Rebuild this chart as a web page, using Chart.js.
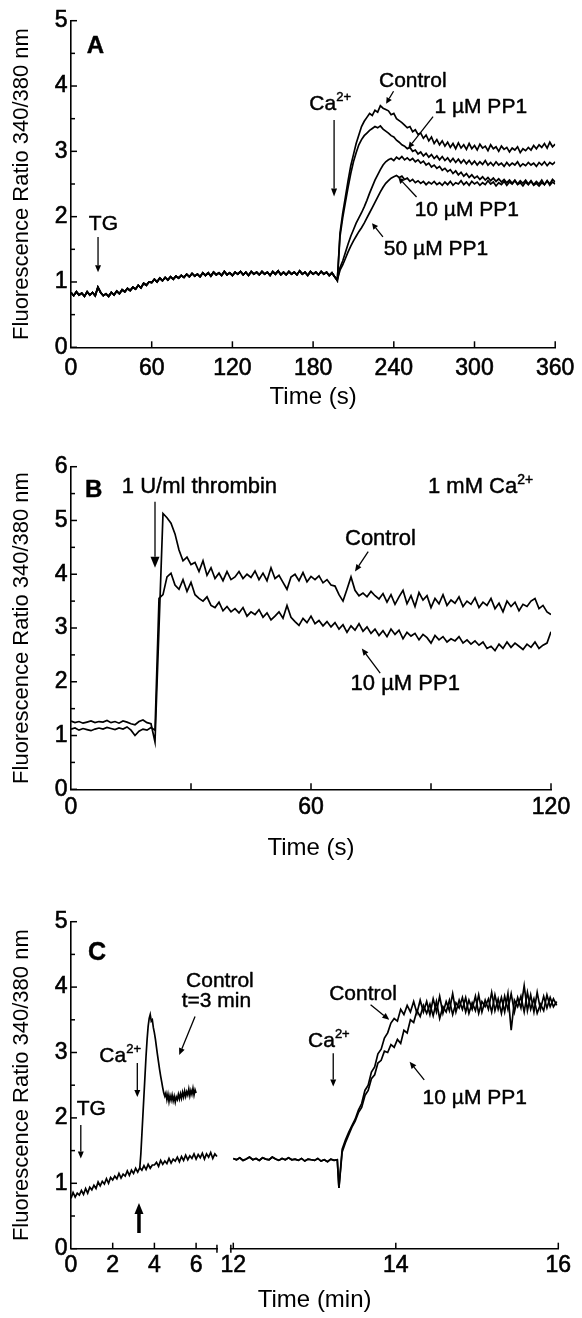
<!DOCTYPE html>
<html><head><meta charset="utf-8">
<script src="https://cdn.jsdelivr.net/npm/chart.js@4.4.0/dist/chart.umd.min.js"></script>
<style>
html,body{margin:0;padding:0;background:#fff;}
#wrap{position:relative;width:582px;height:1318px;background:#fff;}
#wrap canvas{position:absolute;left:0;}
</style></head><body>
<div id="wrap">
<canvas id="cA" width="582" height="430" style="top:0px"></canvas>
<canvas id="cB" width="582" height="440" style="top:430px"></canvas>
<canvas id="cC" width="582" height="448" style="top:870px"></canvas>
</div>
<script>
// ---------------- DATA ----------------
// Panel A: time in s (baseline shared by all 4 traces, 0..196 s every 2 s)
const aBaseStart = 0, aBaseStep = 2;
const aBaseline = [0.84,0.79,0.85,0.80,0.83,0.78,0.85,0.80,0.84,0.79,0.92,0.84,0.79,
 0.82,0.78,0.84,0.80,0.86,0.82,0.88,
 0.85,0.90,0.87,0.92,0.89,0.95,0.91,0.98,0.95,1.00,
 0.99,1.04,1.00,1.06,1.02,1.07,1.03,1.08,1.04,1.09,
 1.06,1.10,1.07,1.12,1.08,1.13,1.09,1.12,1.08,1.14,
 1.10,1.14,1.09,1.15,1.11,1.14,1.10,1.16,1.11,1.14,
 1.10,1.15,1.12,1.16,1.11,1.15,1.10,1.16,1.12,1.15,
 1.11,1.16,1.12,1.15,1.10,1.16,1.12,1.17,1.11,1.15,
 1.11,1.16,1.12,1.15,1.11,1.17,1.12,1.15,1.10,1.16,
 1.12,1.15,1.11,1.16,1.12,1.15,1.10,1.14,1.08];
// after Ca2+ addition: 198..360 s every 2 s
const aPostStart = 198, aPostStep = 2;
const aControl = [1.02,1.75,2.05,2.30,2.55,2.78,2.95,3.12,3.25,3.38,
 3.46,3.52,3.58,3.55,3.63,3.60,3.70,3.66,3.64,3.62,
 3.56,3.58,3.50,3.47,3.44,3.40,3.36,3.38,3.30,3.33,
 3.26,3.28,3.20,3.25,3.16,3.22,3.12,3.18,3.10,3.16,
 3.08,3.14,3.06,3.12,3.04,3.13,3.05,3.10,3.03,3.12,
 3.04,3.09,3.02,3.11,3.05,3.08,3.01,3.10,3.04,3.07,
 3.00,3.08,3.03,3.06,2.99,3.05,3.02,3.07,2.98,3.04,
 3.01,3.06,3.02,3.09,3.04,3.10,3.06,3.12,3.05,3.14,
 3.07,3.11];
const aPP1_1uM = [1.02,1.70,1.98,2.22,2.45,2.66,2.84,2.98,3.10,3.18,
 3.24,3.28,3.32,3.35,3.38,3.36,3.39,3.34,3.31,3.28,
 3.24,3.22,3.17,3.14,3.10,3.08,3.04,3.06,3.00,3.02,
 2.96,2.99,2.93,2.97,2.91,2.95,2.89,2.93,2.87,2.92,
 2.86,2.90,2.84,2.89,2.83,2.88,2.82,2.87,2.81,2.86,
 2.80,2.85,2.79,2.84,2.80,2.86,2.79,2.83,2.78,2.84,
 2.79,2.82,2.77,2.83,2.78,2.82,2.79,2.84,2.77,2.81,
 2.78,2.83,2.79,2.82,2.77,2.83,2.79,2.84,2.78,2.83,
 2.80,2.84];
const aPP1_10uM = [1.04,1.22,1.32,1.45,1.58,1.70,1.80,1.90,1.98,2.06,
 2.15,2.25,2.36,2.46,2.56,2.64,2.72,2.79,2.84,2.87,
 2.89,2.86,2.91,2.88,2.92,2.87,2.90,2.86,2.89,2.84,
 2.87,2.82,2.85,2.79,2.82,2.76,2.79,2.74,2.77,2.71,
 2.74,2.69,2.72,2.66,2.70,2.64,2.68,2.62,2.66,2.60,
 2.64,2.59,2.62,2.57,2.61,2.56,2.60,2.55,2.59,2.54,
 2.58,2.53,2.57,2.52,2.56,2.51,2.56,2.50,2.55,2.51,
 2.56,2.50,2.55,2.49,2.54,2.50,2.56,2.49,2.55,2.50,
 2.57,2.53];
const aPP1_50uM = [1.03,1.18,1.26,1.36,1.46,1.55,1.63,1.70,1.77,1.83,
 1.90,1.98,2.06,2.14,2.22,2.30,2.38,2.45,2.51,2.55,
 2.59,2.61,2.63,2.60,2.62,2.57,2.59,2.54,2.57,2.52,
 2.55,2.51,2.54,2.49,2.53,2.50,2.54,2.49,2.52,2.48,
 2.53,2.49,2.54,2.48,2.52,2.50,2.55,2.49,2.53,2.48,
 2.54,2.50,2.53,2.48,2.52,2.49,2.55,2.50,2.53,2.47,
 2.52,2.49,2.54,2.48,2.53,2.50,2.55,2.49,2.52,2.47,
 2.53,2.49,2.54,2.48,2.51,2.47,2.52,2.49,2.55,2.48,
 2.53,2.50];
const aXTicks = [0,60,120,180,240,300,360];
const aXMarks = [60,120,180,240,300,360];
const aYTicks = [0,1,2,3,4,5];
const aYMinor = [0.5,1.5,2.5,3.5,4.5];

// Panel B: time in s, every 1 s from 0 to 120
const bStart = 0, bStep = 1;
const bControl = [1.27,1.24,1.26,1.23,1.25,1.27,1.24,1.26,1.25,1.28,
 1.24,1.26,1.23,1.27,1.25,1.22,1.20,1.26,1.29,1.24,
 1.22,0.88,3.00,5.13,5.05,4.95,4.75,4.45,4.25,4.32,
 4.18,4.22,4.05,4.25,3.98,4.12,3.92,4.02,3.88,4.05,
 3.90,3.95,4.05,3.92,4.00,3.94,4.06,3.90,4.02,3.88,
 4.12,3.92,3.98,3.85,3.72,3.95,4.00,3.88,4.03,3.86,
 3.96,3.90,3.97,3.84,3.90,3.80,3.78,3.62,3.50,3.72,
 3.95,3.70,3.60,3.65,3.58,3.68,3.60,3.54,3.64,3.48,
 3.62,3.44,3.58,3.70,3.45,3.60,3.40,3.66,3.52,3.60,
 3.38,3.55,3.45,3.62,3.42,3.52,3.46,3.58,3.40,3.50,
 3.44,3.56,3.38,3.48,3.42,3.55,3.36,3.46,3.30,3.50,
 3.40,3.48,3.32,3.44,3.40,3.50,3.55,3.36,3.42,3.30,
 3.25];
const bPP1_10uM = [1.12,1.14,1.10,1.13,1.11,1.09,1.12,1.14,1.12,1.15,
 1.13,1.11,1.14,1.12,1.16,1.10,1.00,1.08,1.12,1.10,
 1.15,1.10,3.55,3.62,3.95,4.02,3.80,3.72,3.90,3.68,
 3.85,3.62,3.55,3.50,3.58,3.42,3.38,3.48,3.32,3.40,
 3.30,3.36,3.28,3.38,3.22,3.30,3.25,3.34,3.20,3.28,
 3.15,3.22,3.30,3.18,3.42,3.20,3.12,3.05,3.18,3.10,
 3.22,3.08,3.14,3.04,3.12,3.02,3.10,2.98,3.06,2.92,
 3.04,2.96,3.08,2.94,3.02,2.90,2.98,2.86,2.95,2.84,
 2.98,2.88,2.96,2.80,2.92,2.85,2.90,2.78,2.88,2.82,
 2.72,2.86,2.78,2.84,2.74,2.80,2.76,2.84,2.72,2.78,
 2.70,2.76,2.68,2.74,2.62,2.66,2.58,2.70,2.62,2.74,
 2.64,2.72,2.66,2.60,2.70,2.64,2.74,2.62,2.68,2.72,
 2.93];
const bXTicks = [0,60,120];
const bXMarks = [30,60,90,120];
const bYTicks = [0,1,2,3,4,5,6];
const bYMinor = [0.5,1.5,2.5,3.5,4.5,5.5];

// Panel C: time in min. Left segment 0..7 min
const cLeftStart = 0, cLeftStep = 0.1;
const cLeftBase = [0.77,0.86,0.79,0.85,0.82,0.89,0.83,0.92,0.85,0.94,
 0.90,0.97,0.92,1.02,0.96,1.03,0.99,1.07,1.00,1.09,
 1.05,1.11,1.07,1.15,1.08,1.14,1.11,1.19,1.12,1.20,
 1.15,1.23,1.17,1.24,1.20,1.27,1.21,1.29,1.23,1.28,
 1.28,1.32,1.26,1.35,1.29,1.34,1.30,1.38,1.31,1.37,
 1.34,1.40,1.33,1.41,1.35,1.43,1.36,1.42,1.38,1.45,
 1.37,1.44,1.39,1.46,1.37,1.45,1.40,1.47,1.38,1.45,
 1.41];
const cCtrl3Start = 3.30, cCtrl3Step = 0.05;
const cControl3min = [1.24,1.45,1.75,2.05,2.35,2.65,2.95,3.20,3.40,3.52,
 3.58,3.48,3.50,3.38,3.30,3.20,3.08,2.96,2.85,2.74,
 2.64,2.55,2.46,2.38,2.33,2.38,2.28,2.36,2.25,2.34,
 2.27,2.35,2.26,2.33,2.24,2.32,2.28,2.36,2.29,2.37,
 2.30,2.39,2.32,2.41,2.33,2.40,2.35,2.44,2.34,2.42,
 2.36,2.45,2.35,2.43,2.38];
// Right segment 12..16 min
const cRightBaseStart = 12.0, cRightStep = 0.04;
const cRightBase = [1.38,1.36,1.39,1.35,1.37,1.40,1.36,1.38,1.35,1.39,
 1.37,1.36,1.40,1.37,1.35,1.38,1.36,1.39,1.36,1.37,
 1.35,1.38,1.34,1.37,1.36,1.35,1.38,1.34,1.36,1.33,
 1.37,1.35,1.36];
const cRightPostStart = 13.30;
const cRightControl = [0.93,1.52,1.66,1.78,1.88,1.98,2.12,2.22,2.42,2.50,
 2.70,2.78,2.98,3.05,3.22,3.30,3.45,3.52,3.48,3.66,
 3.58,3.72,3.62,3.78,3.60,3.80,3.62,3.78,3.58,3.82,
 3.62,3.86,3.60,3.78,3.64,3.90,3.62,3.80,3.66,3.84,
 3.60,3.76,3.64,3.88,3.62,3.80,3.66,3.92,3.64,3.82,
 3.60,3.86,3.66,3.90,3.62,3.84,3.68,4.02,3.64,3.88,
 3.62,3.92,3.66,3.86,3.68,3.84,3.70,3.78];
const cRightPP1 = [0.93,1.48,1.62,1.74,1.86,1.95,2.08,2.16,2.34,2.42,
 2.60,2.66,2.84,2.88,3.02,3.00,3.12,3.08,3.20,3.14,
 3.34,3.30,3.50,3.46,3.64,3.55,3.72,3.60,3.74,3.56,
 3.78,3.52,3.70,3.62,3.80,3.58,3.76,3.68,3.84,3.62,
 3.80,3.66,3.86,3.60,3.78,3.70,3.82,3.62,3.88,3.66,
 3.84,3.62,3.90,3.34,3.80,3.70,3.86,3.62,3.92,3.66,
 3.82,3.60,3.74,3.64,3.88,3.70,3.82,3.72];
const cLeftXTicks = [0,2,4,6];
const cLeftXMarks = [2,4,6];
const cRightXTicks = [12,14,16];
const cRightXMarks = [12,14,16];
const cYTicks = [0,1,2,3,4,5];
const cYMinor = [0.5,1.5,2.5,3.5,4.5];

// ---------------- HELPERS ----------------
const FONT = "'Liberation Sans', Arial, Helvetica, sans-serif";
function pts(start, step, vals) { return vals.map((v, i) => ({x: +(start + i * step).toFixed(4), y: v})); }
function line(data, xAxisID) {
  return {data, borderColor: '#000', borderWidth: 1.7, pointRadius: 0, tension: 0, fill: false, xAxisID: xAxisID || 'x', yAxisID: 'y'};
}
function setTicks(vals) { return s => { s.ticks = vals.map(v => ({value: v})); }; }
function seg(ctx, x1, y1, x2, y2) { ctx.beginPath(); ctx.moveTo(x1, y1); ctx.lineTo(x2, y2); ctx.stroke(); }
function drawRich(ctx, x, y, parts, size, weight, align) {
  let total = 0;
  const fontFor = p => `${weight || 'normal'} ${p.sup ? Math.round(size * 0.62) : size}px ${FONT}`;
  parts.forEach(p => { ctx.font = fontFor(p); total += ctx.measureText(p.t).width; });
  let cx = align === 'center' ? x - total / 2 : x;
  ctx.textAlign = 'left'; ctx.textBaseline = 'alphabetic';
  ctx.lineWidth = 0.45; ctx.lineJoin = 'round';
  parts.forEach(p => {
    ctx.font = fontFor(p);
    const yy = p.sup ? y - size * 0.42 : y;
    ctx.fillText(p.t, cx, yy);
    ctx.strokeText(p.t, cx, yy);
    cx += ctx.measureText(p.t).width;
  });
}
function drawArrow(ctx, x1, y1, x2, y2, w, head, hw) {
  const ang = Math.atan2(y2 - y1, x2 - x1);
  const bx = x2 - head * Math.cos(ang), by = y2 - head * Math.sin(ang);
  ctx.lineWidth = w;
  seg(ctx, x1, y1, bx, by);
  ctx.beginPath();
  ctx.moveTo(x2, y2);
  ctx.lineTo(bx + hw * Math.sin(ang), by - hw * Math.cos(ang));
  ctx.lineTo(bx - hw * Math.sin(ang), by + hw * Math.cos(ang));
  ctx.closePath(); ctx.fill();
}

const decor = {
  id: 'decor',
  afterDraw(chart, args, o) {
    const ctx = chart.ctx, ca = chart.chartArea, ys = chart.scales.y;
    ctx.save();
    ctx.strokeStyle = '#000'; ctx.fillStyle = '#000'; ctx.lineWidth = 1.5;
    (o.yMajor || []).forEach(v => { const p = ys.getPixelForValue(v); seg(ctx, ca.left, p, ca.left + 6, p); });
    (o.yMinor || []).forEach(v => { const p = ys.getPixelForValue(v); seg(ctx, ca.left, p, ca.left + 4, p); });
    (o.xMarks || []).forEach(m => {
      const s = chart.scales[m.axis];
      m.values.forEach(v => { const p = s.getPixelForValue(v); seg(ctx, p, ca.bottom, p, ca.bottom - 6); });
    });
    if (o.xBreak) {
      const b = o.xBreak;
      const a = chart.scales[b.leftAxis].getPixelForValue(b.leftEnd);
      const c = chart.scales[b.rightAxis].getPixelForValue(b.rightStart);
      ctx.fillStyle = '#fff'; ctx.fillRect(a + 1, ca.bottom - 3, c - a - 2, 6);
      ctx.fillStyle = '#000';
      seg(ctx, a, ca.bottom - 4, a, ca.bottom + 4);
      seg(ctx, c, ca.bottom - 4, c, ca.bottom + 4);
    }
    (o.texts || []).forEach(t => {
      const x = chart.scales[t.axis || 'x'].getPixelForValue(t.x);
      const y = ys.getPixelForValue(t.y);
      drawRich(ctx, x, y, t.parts, t.size || 21, t.weight, t.align);
    });
    (o.arrows || []).forEach(a => {
      const s = chart.scales[a.axis || 'x'];
      drawArrow(ctx, s.getPixelForValue(a.x1), ys.getPixelForValue(a.y1), s.getPixelForValue(a.x2), ys.getPixelForValue(a.y2),
        a.w || 1.3, a.head || 7, a.hw || 3);
    });
    ctx.restore();
  }
};

function yScale(max, ticks) {
  return {
    type: 'linear', position: 'left', min: 0, max: max,
    afterBuildTicks: setTicks(ticks),
    afterFit: s => { s.width = 71; },
    grid: {display: false, drawTicks: false},
    border: {display: true, color: '#000', width: 1.6},
    ticks: {color: '#000', font: {family: FONT, size: 23}, padding: 3.5, autoSkip: false, textStrokeColor: '#000', textStrokeWidth: 0.6},
    title: {display: true, text: 'Fluorescence Ratio 340/380 nm', color: '#000', font: {family: FONT, size: 22}, padding: {top: 8.8, bottom: 0}}
  };
}
function xScale(min, max, ticks, height, tickPad, title, titlePad) {
  return {
    type: 'linear', position: 'bottom', min: min, max: max,
    afterBuildTicks: setTicks(ticks),
    afterFit: s => { s.height = height; },
    grid: {display: false, drawTicks: false},
    border: {display: true, color: '#000', width: 1.6},
    ticks: {color: '#000', font: {family: FONT, size: 23}, padding: tickPad, autoSkip: false, maxRotation: 0, minRotation: 0, textStrokeColor: '#000', textStrokeWidth: 0.6},
    title: {display: !!title, text: title || '', color: '#000', font: {family: FONT, size: 24}, padding: {top: 0, bottom: titlePad}}
  };
}
const baseOpts = {responsive: false, animation: false, devicePixelRatio: 1, events: []};
const CA = [{t: 'Ca'}, {t: '2+', sup: true}];

// ---------------- PANEL A ----------------
new Chart(document.getElementById('cA'), {
  type: 'line',
  data: {datasets: [
    line(pts(aBaseStart, aBaseStep, aBaseline).concat(pts(aPostStart, aPostStep, aPP1_50uM))),
    line(pts(aBaseStart, aBaseStep, aBaseline).concat(pts(aPostStart, aPostStep, aPP1_10uM))),
    line(pts(aBaseStart, aBaseStep, aBaseline).concat(pts(aPostStart, aPostStep, aPP1_1uM))),
    line(pts(aBaseStart, aBaseStep, aBaseline).concat(pts(aPostStart, aPostStep, aControl)))
  ]},
  options: Object.assign({}, baseOpts, {
    layout: {padding: {left: 0, top: 20.7, right: 22, bottom: 0}},
    scales: {x: xScale(0, 360, aXTicks, 82.7, 7.6, 'Time (s)', 18.6), y: yScale(5, aYTicks)},
    plugins: {legend: {display: false}, tooltip: {enabled: false},
      decor: {
        yMajor: aYTicks, yMinor: aYMinor, xMarks: [{axis: 'x', values: aXMarks}],
        texts: [
          {x: 11.8, y: 4.50, parts: [{t: 'A'}], size: 24, weight: 'bold'},
          {x: 24.1, y: 1.80, parts: [{t: 'TG'}], align: 'center'},
          {x: 177.2, y: 3.63, parts: CA},
          {x: 229, y: 3.99, parts: [{t: 'Control'}]},
          {x: 270.2, y: 3.59, parts: [{t: '1 µM PP1'}]},
          {x: 255.5, y: 2.01, parts: [{t: '10 µM PP1'}]},
          {x: 232.6, y: 1.41, parts: [{t: '50 µM PP1'}]}
        ],
        arrows: [
          {x1: 20.1, y1: 1.69, x2: 20.1, y2: 1.15},
          {x1: 195.6, y1: 3.48, x2: 195.6, y2: 2.31, head: 8},
          {x1: 239.8, y1: 3.92, x2: 234.3, y2: 3.73, head: 6},
          {x1: 269.2, y1: 3.53, x2: 250.8, y2: 3.05, head: 6},
          {x1: 256.9, y1: 2.30, x2: 243.4, y2: 2.60, head: 6},
          {x1: 231.9, y1: 1.69, x2: 223.8, y2: 1.90, head: 6}
        ]
      }}
  }),
  plugins: [decor]
});

// ---------------- PANEL B ----------------
new Chart(document.getElementById('cB'), {
  type: 'line',
  data: {datasets: [
    line(pts(bStart, bStep, bPP1_10uM)),
    line(pts(bStart, bStep, bControl))
  ]},
  options: Object.assign({}, baseOpts, {
    layout: {padding: {left: 0, top: 36.7, right: 31, bottom: 0}},
    scales: {x: xScale(0, 120, bXTicks, 80.7, 4.9, 'Time (s)', 7.6), y: yScale(6, bYTicks)},
    plugins: {legend: {display: false}, tooltip: {enabled: false},
      decor: {
        yMajor: bYTicks, yMinor: bYMinor, xMarks: [{axis: 'x', values: bXMarks}],
        texts: [
          {x: 3.5, y: 5.44, parts: [{t: 'B'}], size: 24, weight: 'bold'},
          {x: 12.7, y: 5.505, parts: [{t: '1 U/ml thrombin'}], size: 22},
          {x: 89.25, y: 5.505, parts: [{t: '1 mM '}].concat(CA), size: 22},
          {x: 68.5, y: 4.54, parts: [{t: 'Control'}], size: 22},
          {x: 69.9, y: 1.85, parts: [{t: '10 µM PP1'}], size: 22}
        ],
        arrows: [
          {x1: 21, y1: 5.35, x2: 21, y2: 4.12, head: 11, hw: 4.5},
          {x1: 74.3, y1: 4.42, x2: 71, y2: 4.05},
          {x1: 77.3, y1: 2.16, x2: 72.7, y2: 2.62}
        ]
      }}
  }),
  plugins: [decor]
});

// ---------------- PANEL C ----------------
const cx1 = xScale(0, 7.386, cLeftXTicks, 40, 3.2, '', 0);
cx1.stack = 'time'; cx1.stackWeight = 154; cx1.weight = 0;
const cx2 = xScale(11.898, 16, cRightXTicks, 40, 3.2, '', 0);
cx2.stack = 'time'; cx2.stackWeight = 333.3; cx2.weight = 0;
const cxt = {
  type: 'linear', position: 'bottom', min: 0, max: 1, weight: 1,
  afterBuildTicks: s => { s.ticks = []; },
  afterFit: s => { s.height = 29.3; },
  grid: {display: false, drawTicks: false}, border: {display: false},
  ticks: {display: false},
  title: {display: true, text: 'Time (min)', color: '#000', font: {family: FONT, size: 24}, padding: {top: 0, bottom: 2.8}}
};
new Chart(document.getElementById('cC'), {
  type: 'line',
  data: {datasets: [
    line(pts(cLeftStart, cLeftStep, cLeftBase), 'x'),
    line(pts(cCtrl3Start, cCtrl3Step, cControl3min), 'x'),
    line(pts(cRightBaseStart, cRightStep, cRightBase).concat(pts(cRightPostStart, cRightStep, cRightPP1)), 'x2'),
    line(pts(cRightBaseStart, cRightStep, cRightBase).concat(pts(cRightPostStart, cRightStep, cRightControl)), 'x2')
  ]},
  options: Object.assign({}, baseOpts, {
    layout: {padding: {left: 0, top: 51.7, right: 23.7, bottom: 0}},
    scales: {y: yScale(5, cYTicks), x: cx1, x2: cx2, xt: cxt},
    plugins: {legend: {display: false}, tooltip: {enabled: false},
      decor: {
        yMajor: cYTicks, yMinor: cYMinor,
        xMarks: [{axis: 'x', values: cLeftXMarks}, {axis: 'x2', values: cRightXMarks}],
        xBreak: {leftAxis: 'x', leftEnd: 7.0, rightAxis: 'x2', rightStart: 11.97},
        texts: [
          {x: 0.82, y: 4.415, parts: [{t: 'C'}], size: 25, weight: 'bold'},
          {x: 0.27, y: 2.04, parts: [{t: 'TG'}]},
          {x: 1.36, y: 2.86, parts: CA},
          {x: 5.52, y: 4.006, parts: [{t: 'Control'}]},
          {x: 5.31, y: 3.70, parts: [{t: 't=3 min'}]},
          {axis: 'x2', x: 12.92, y: 3.09, parts: CA},
          {axis: 'x2', x: 13.18, y: 3.80, parts: [{t: 'Control'}]},
          {axis: 'x2', x: 14.33, y: 2.22, parts: [{t: '10 µM PP1'}]}
        ],
        arrows: [
          {x1: 0.47, y1: 1.89, x2: 0.47, y2: 1.38},
          {x1: 3.18, y1: 2.84, x2: 3.18, y2: 2.32},
          {x1: 5.95, y1: 3.55, x2: 5.19, y2: 2.96},
          {x1: 3.26, y1: 0.24, x2: 3.26, y2: 0.70, w: 3.5, head: 11, hw: 4.5},
          {axis: 'x2', x1: 13.23, y1: 2.99, x2: 13.23, y2: 2.48},
          {axis: 'x2', x1: 13.69, y1: 3.73, x2: 13.92, y2: 3.50},
          {axis: 'x2', x1: 14.35, y1: 2.58, x2: 14.17, y2: 2.86}
        ]
      }}
  }),
  plugins: [decor]
});
</script>
</body></html>
